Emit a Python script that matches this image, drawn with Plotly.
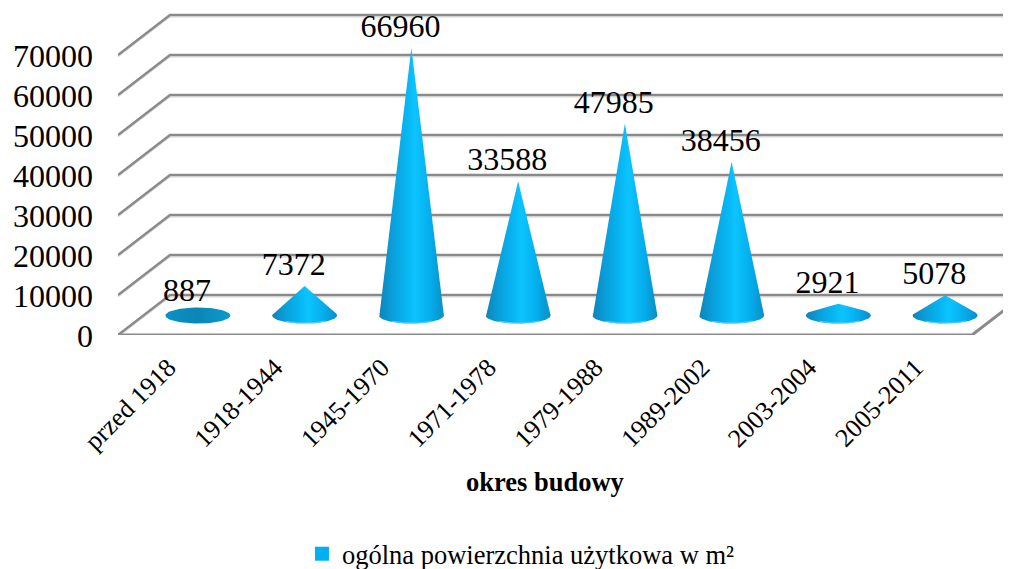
import numpy as np
import plotly.graph_objects as go

categories = ["przed 1918", "1918-1944", "1945-1970", "1971-1978", "1979-1988", "1989-2002", "2003-2004", "2005-2011"]
values = [887, 7372, 66960, 33588, 47985, 38456, 2921, 5078]
y_ticks = [0, 10000, 20000, 30000, 40000, 50000, 60000, 70000]
series_name = "ogólna powierzchnia użytkowa w m²"
x_title = "okres budowy"

FONT = "Liberation Serif"
PAGE_PAD = 8  # default page margin round the figure
PX_X = 106.75
PX_Y = 0.004
WIDTH, HEIGHT = 1011 - PAGE_PAD, 569 - PAGE_PAD
LEFT, BOTTOM = 118 - PAGE_PAD, 234
DEPTH_X = 52 / PX_X
DEPTH_Y = 40 / PX_Y
BASE_X = 26.5 / PX_X
BASE_Y = 19.5 / PX_Y
RX = 32.5 / PX_X
RY = 8 / PX_Y
GRID = "#8a8a8a"
SHADOW = "#d6d6d6"

SCALE = [[0, "#0c84ba"], [0.18, "#0a9cd8"], [0.4, "#06b4f0"], [0.56, "#0cc4ff"],
         [0.8, "#04aceb"], [1, "#0c8ec4"]]
DARK = [[0, "#0a92c4"], [0.5, "#0a86b6"], [1, "#0a9ccd"]]

fig = go.Figure()

n = len(categories)
x0, x1 = -0.5, n - 0.5
for t in y_ticks:
    xs = [x0, x0 + DEPTH_X, x1 + DEPTH_X]
    ys = [t, t + DEPTH_Y, t + DEPTH_Y]
    fig.add_trace(go.Scatter(x=xs, y=[y - 2 / PX_Y for y in ys], mode="lines",
                             line=dict(color=SHADOW, width=1), showlegend=False,
                             hoverinfo="skip", cliponaxis=False))
    fig.add_trace(go.Scatter(x=xs, y=ys, mode="lines", line=dict(color=GRID, width=2.5),
                             showlegend=False, hoverinfo="skip", cliponaxis=False))
fig.add_trace(go.Scatter(x=[x0, x1, x1 + DEPTH_X], y=[0, 0, DEPTH_Y], mode="lines",
                         line=dict(color=GRID, width=3), showlegend=False, hoverinfo="skip",
                         cliponaxis=False))

for i, v in enumerate(values):
    cx = i + BASE_X
    cy = BASE_Y
    if v <= RY:
        t = np.linspace(0, 2 * np.pi, 80)
        xs = cx + RX * np.cos(t)
        ys = cy + RY * np.sin(t)
        scale = DARK
    else:
        a = np.arcsin(RY / v)
        t = np.linspace(np.pi - a, 2 * np.pi + a, 70)
        xs = np.concatenate([[cx], cx + RX * np.cos(t), [cx]])
        ys = np.concatenate([[cy + v], cy + RY * np.sin(t), [cy + v]])
        scale = SCALE
    fig.add_trace(go.Scatter(x=xs, y=ys, mode="lines", fill="toself", line=dict(width=0),
                             fillgradient=dict(type="horizontal", colorscale=scale),
                             showlegend=False, hoverinfo="skip", cliponaxis=False))
    if v > RY:
        r = np.linspace(1.3 * np.pi, 1.72 * np.pi, 30)
        fig.add_trace(go.Scatter(x=cx + RX * np.cos(r), y=cy + RY * np.sin(r) + 0.5 / PX_Y, mode="lines",
                                 line=dict(color="#48ccf6", width=1.2), showlegend=False,
                                 hoverinfo="skip", cliponaxis=False))

fig.add_trace(go.Scatter(x=[i + 15.5 / PX_X for i in range(n)], y=[v + 38.5 / PX_Y for v in values],
                         text=[str(v) for v in values], mode="text", textposition="middle center",
                         textfont=dict(family=FONT, size=32, color="#000000"), showlegend=False,
                         hoverinfo="skip", cliponaxis=False))

fig.add_trace(go.Scatter(x=[None], y=[None], mode="markers", name=series_name,
                         marker=dict(symbol="square", size=14, color="#00b0f0")))

plot_w = WIDTH - LEFT
plot_h = HEIGHT - BOTTOM
fig.update_layout(
    width=WIDTH, height=HEIGHT,
    margin=dict(l=LEFT, r=0, t=0, b=BOTTOM, autoexpand=False),
    paper_bgcolor="#ffffff", plot_bgcolor="#ffffff",
    font=dict(family=FONT, color="#000000"),
    xaxis=dict(range=[x0, x0 + plot_w / PX_X], tickmode="array", tickvals=list(range(n)),
               ticktext=categories, tickangle=-45, tickfont=dict(family=FONT, size=26),
               showgrid=False, zeroline=False, showline=False, ticks="", automargin=False,
               ticklabelstandoff=11, ticklabelshift=-3),
    yaxis=dict(range=[0, plot_h / PX_Y], tickmode="array", tickvals=y_ticks,
               tickfont=dict(family=FONT, size=32), showgrid=False, zeroline=False, showline=False,
               ticks="", automargin=False, ticklabelstandoff=24, ticklabelshift=1, tickformat="d"),
    showlegend=True,
    legend=dict(x=0.206, y=(335 - 554) / plot_h, xanchor="left", yanchor="middle", xref="paper",
                yref="paper", font=dict(family=FONT, size=26.5), bgcolor="rgba(0,0,0,0)",
                itemwidth=30, borderwidth=0),
    annotations=[dict(text=f"<b>{x_title}</b>", xref="paper", yref="paper",
                      x=(545 - 118) / plot_w, y=(335 - 482) / plot_h,
                      xanchor="center", yanchor="middle",
                      showarrow=False, font=dict(family=FONT, size=26.5))],
)
fig.write_html("out.html")
